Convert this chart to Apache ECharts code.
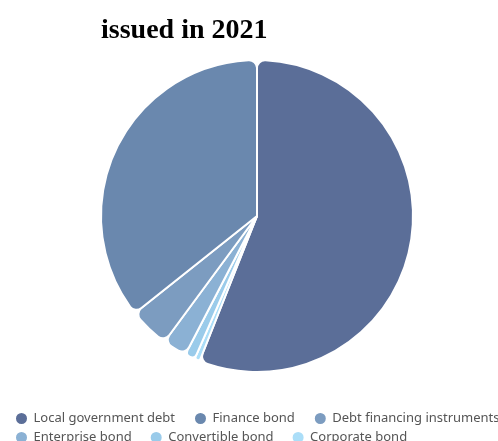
<!DOCTYPE html>
<html>
<head>
<meta charset="utf-8">
<script src="https://cdn.jsdelivr.net/npm/echarts@6/dist/echarts.min.js"></script>
<style>
  html, body { margin: 0; padding: 0; background: #fff; }
  #chart { width: 498px; height: 441px; }
</style>
</head>
<body>
<div id="chart"></div>
<script>
// Bond issuance shares by type, 2021 (percent of total)
const categories = [
  'Local government debt',
  'Finance bond',
  'Debt financing instruments',
  'Enterprise bond',
  'Convertible bond',
  'Corporate bond'
];
const shares = [56.0, 35.7, 4.2, 2.5, 1.05, 0.55];
const colors = ['#5b6e98', '#6a88ae', '#7c9cc0', '#8bb1d4', '#9acbea', '#abdef8'];

// Slices run clockwise from 12 o'clock: the largest first, then the smallest upward
const drawOrder = [0, 5, 4, 3, 2, 1];
const pieData = drawOrder.map(i => ({
  name: categories[i],
  value: shares[i],
  itemStyle: { color: colors[i] }
}));

const legendText = { fontFamily: 'Noto Sans', fontSize: 13, color: '#555' };
const legendBase = {
  left: 9,
  width: 700,
  icon: 'circle',
  itemWidth: 14,
  itemHeight: 13,
  textStyle: legendText
};

const chart = echarts.init(document.getElementById('chart'), null, { renderer: 'canvas' });
chart.setOption({
  animation: false,
  backgroundColor: '#fff',
  title: {
    text: 'issued in 2021',
    left: 96,
    top: 12,
    textStyle: { fontFamily: 'Liberation Serif', fontWeight: 'bold', fontSize: 28, color: '#000' }
  },
  legend: [
    Object.assign({}, legendBase, { data: categories.slice(0, 3), top: 406, itemGap: 18 }),
    Object.assign({}, legendBase, { data: categories.slice(3), top: 425, itemGap: 17 })
  ],
  series: [{
    type: 'pie',
    center: [257, 216],
    radius: [0, 156],
    startAngle: 90,
    clockwise: true,
    label: { show: false },
    labelLine: { show: false },
    itemStyle: { borderColor: '#fff', borderWidth: 2, borderRadius: 8 },
    data: pieData
  }]
});
</script>
</body>
</html>
